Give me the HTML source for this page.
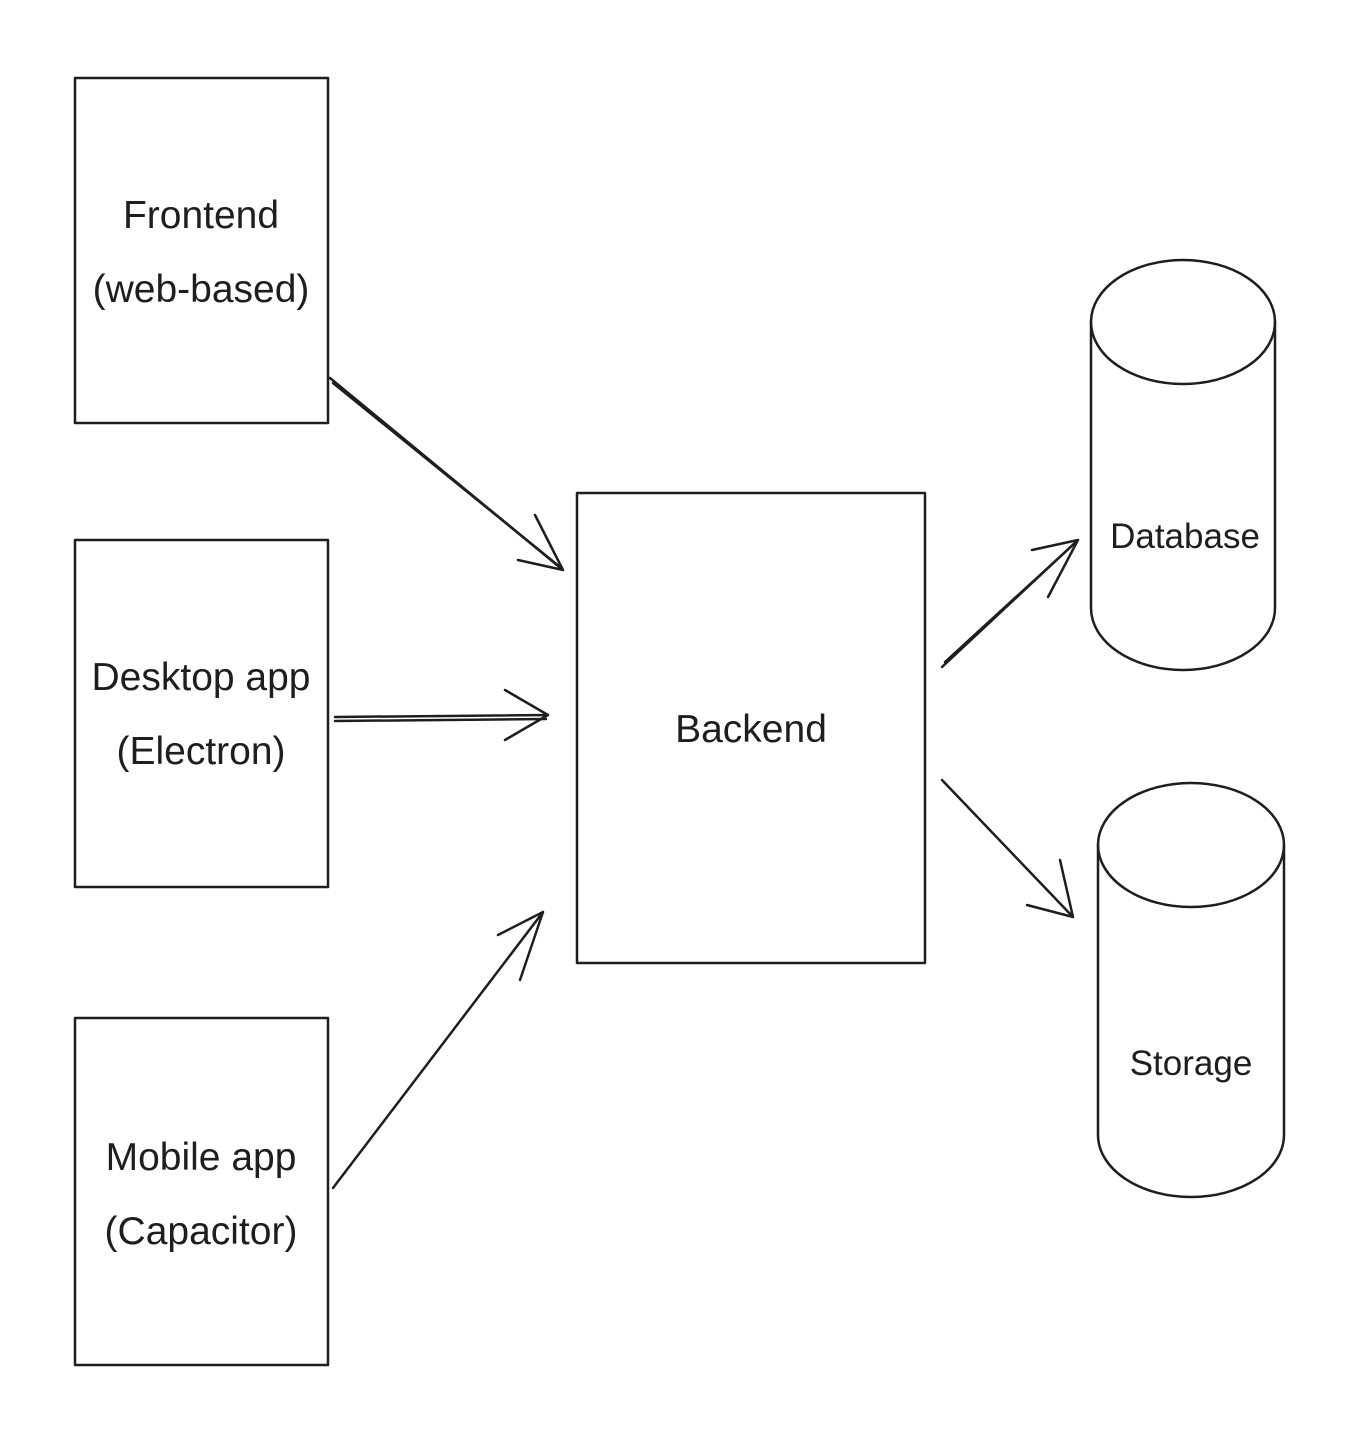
<!DOCTYPE html>
<html><head><meta charset="utf-8"><style>
html,body{margin:0;padding:0;background:#fff;}
svg{display:block;}
text{font-family:"Liberation Sans",sans-serif;font-size:39px;fill:#1e1e1e;text-anchor:middle;}
</style></head><body>
<svg width="1354" height="1443" viewBox="0 0 1354 1443">
<rect width="1354" height="1443" fill="#fff"/>
<g fill="none" stroke="#1e1e1e" stroke-width="2.5" stroke-linecap="round" stroke-linejoin="round">
<rect x="75" y="78" width="253" height="345"/>
<rect x="75" y="540" width="253" height="347"/>
<rect x="75" y="1018" width="253" height="347"/>
<rect x="577" y="493" width="348" height="470"/>
<ellipse cx="1183" cy="322" rx="92" ry="62"/>
<path d="M1091 322 L1091 608 A92 62 0 0 0 1275 608 L1275 322"/>
<ellipse cx="1191" cy="845" rx="93" ry="62"/>
<path d="M1098 845 L1098 1135 A93 62 0 0 0 1284 1135 L1284 845"/>
<path d="M330 378 L563 570 M535 515 L563 570 L518 560"/>
<path d="M333 383 L560 567"/>
<path d="M335 717 L548 715 M505 690 L548 715 L505 740"/>
<path d="M335 721 L546 719"/>
<path d="M333 1188 L543 912 M498 935 L543 912 L520 980"/>
<path d="M942 667 L1078 540 M1032 550 L1078 540 L1048 597"/>
<path d="M945 662 L1075 543"/>
<path d="M942 780 L1073 917 M1027 905 L1073 917 L1060 860"/>
</g>
<text x="201" y="228">Frontend</text>
<text x="201" y="302">(web-based)</text>
<text x="201" y="690">Desktop app</text>
<text x="201" y="764">(Electron)</text>
<text x="201" y="1170">Mobile app</text>
<text x="201" y="1244">(Capacitor)</text>
<text x="751" y="742">Backend</text>
<text x="1185" y="548" style="font-size:35px">Database</text>
<text x="1191" y="1075" style="font-size:35px">Storage</text>
</svg>
</body></html>
